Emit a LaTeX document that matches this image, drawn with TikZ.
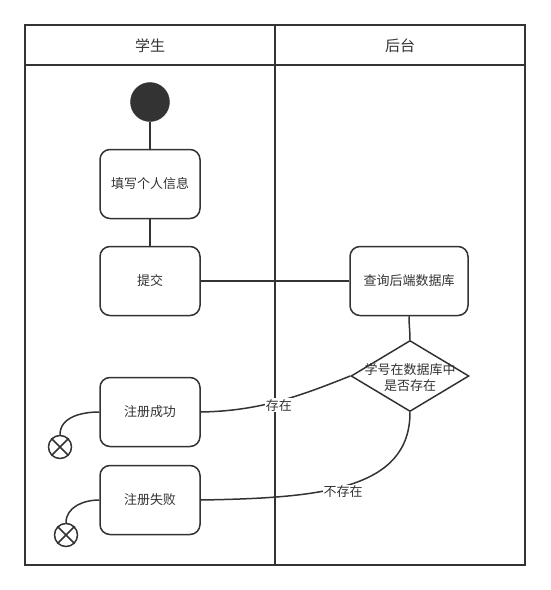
\documentclass[tikz,border=0pt]{standalone}
\usepackage{fontspec}
\setmainfont{Noto Sans CJK SC}
\usetikzlibrary{shapes.geometric}
\definecolor{ln}{HTML}{333333}
\tikzset{
  actbox/.style={draw=ln, line width=1.5pt, rounded corners=10pt, fill=white,
     minimum width=100pt, minimum height=69pt, inner sep=0pt, font=\fontsize{13}{15}\selectfont, text=ln},
  endmark/.style={draw=ln, line width=1.5pt, circle, minimum size=23pt, inner sep=0pt, fill=white},
  lbl/.style={fill=white, inner sep=1pt, font=\fontsize{13}{15}\selectfont, text=ln},
  conn/.style={draw=ln, line width=1.5pt},
  lanetitle/.style={font=\fontsize{15}{17}\selectfont, text=ln}
}
\begin{document}
\begin{tikzpicture}[x=1pt,y=-1pt]
\useasboundingbox (0,0) rectangle (550,590);
% swimlanes
\draw[conn] (25,25) rectangle (525,565);
\draw[conn] (25,65) -- (525,65);
\draw[conn] (275,25) -- (275,565);
\node[lanetitle] (lane1) at (150,46) {学生};
\node[lanetitle] (lane2) at (400,46) {后台};
% nodes
\node[circle, fill=ln, draw=ln, minimum size=39pt, inner sep=0pt] (start) at (150,102) {};
\node[actbox] (fill) at (150,184) {填写个人信息};
\node[actbox] (submit) at (150,281) {提交};
\node[actbox, minimum width=118pt] (query) at (409,281) {查询后端数据库};
\node[diamond, draw=ln, line width=1.5pt, fill=white, minimum width=118pt, minimum height=71pt, inner sep=0pt] (dia) at (410,376) {};
\node[font=\fontsize{13}{15}\selectfont, text=ln, align=center, inner sep=0pt] (diatext) at (410,378) {学号在数据库中\\[1pt]是否存在};
\node[actbox] (ok) at (150,412) {注册成功};
\node[actbox] (fail) at (150,500) {注册失败};
\node[endmark] (end1) at (60,447) {};
\node[endmark] (end2) at (66,535) {};
\draw[conn] (end1.north west) -- (end1.south east) (end1.north east) -- (end1.south west);
\draw[conn] (end2.north west) -- (end2.south east) (end2.north east) -- (end2.south west);
% connectors
\draw[conn] (start) -- (fill);
\draw[conn] (fill) -- (submit);
\draw[conn] (submit) -- (query);
\draw[conn] (query.south) to[out=-90,in=90] (dia.north);
\draw[conn] (dia.west) .. controls (300,396) and (260,411) .. node[lbl, pos=0.5, yshift=-4pt] (l1) {存在} (ok.east);
\draw[conn] (dia.south) .. controls (410,490) and (320,498) .. node[lbl, pos=0.53, yshift=-5pt] (l2) {不存在} (fail.east);
\draw[conn] (ok.west) to[out=180,in=90] (end1.north);
\draw[conn] (fail.west) to[out=180,in=90] (end2.north);
\end{tikzpicture}
\end{document}
